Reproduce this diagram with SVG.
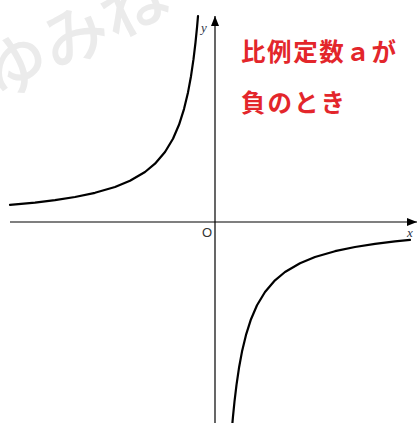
<svg xmlns="http://www.w3.org/2000/svg" width="417" height="423" viewBox="0 0 417 423">
<defs>
<style>
.axis{stroke:#000;stroke-width:1.2;fill:none}
.curve{stroke:#000;stroke-width:2.2;fill:none;stroke-linejoin:round;stroke-linecap:round}
.lbl{font-family:"Liberation Serif",serif;font-style:italic;font-size:13px;fill:#2c3345}
.red{font-family:"Noto Sans CJK JP",sans-serif;font-weight:bold;font-size:24.5px;fill:#e3262b}
.wm{font-family:"Noto Sans CJK JP",sans-serif;font-weight:500;font-size:66px;fill:#ebebeb}
</style>
<marker id="arr" viewBox="0 0 10 8" refX="10" refY="4" markerWidth="10" markerHeight="8" markerUnits="userSpaceOnUse" orient="auto">
<path d="M0,0 L10,4 L0,8 Z" fill="#000"/>
</marker>
</defs>
<rect width="417" height="423" fill="#fff"/>
<text class="wm" transform="translate(-3,102) rotate(-27)">ゆみね</text>
<g id="axes">
<line id="x-axis" class="axis" x1="10" y1="222" x2="417" y2="222" marker-end="url(#arr)"/>
<line id="y-axis" class="axis" x1="215" y1="423" x2="215" y2="16" marker-end="url(#arr)"/>
</g>
<g id="curves">
<polyline id="branch-upper" class="curve" points="10,204.9 35,202.6 55,200.1 75,197 95,192.8 115,187 130,180.8 145,172 155,163.7 165,152 173,138.7 179,124.8 184,109.1 188,92.4 191,76.2 193.5,59.2 195.5,42.5 197,27.6 198,16.1"/>
<polyline id="branch-lower" class="curve" points="232.3,424.3 233,416.4 234.5,401.5 236.5,384.8 239,367.8 242,351.6 246,334.9 251,319.2 257,305.3 265,292 275,280.3 285,272 300,263.2 315,257 335,251.2 355,247 375,243.9 395,241.4 410,239.9"/>
</g>
<g id="labels">
<text class="lbl" x="201" y="32">y</text>
<text x="202" y="237" style="font-family:'Liberation Sans',sans-serif;font-size:13px;fill:#333">O</text>
<text class="lbl" x="407" y="237">x</text>
</g>
<g id="title">
<text class="red" x="241" y="61" textLength="155" lengthAdjust="spacing">比例定数ａが</text>
<text class="red" x="241" y="112" textLength="104" lengthAdjust="spacing">負のとき</text>
</g>
</svg>
